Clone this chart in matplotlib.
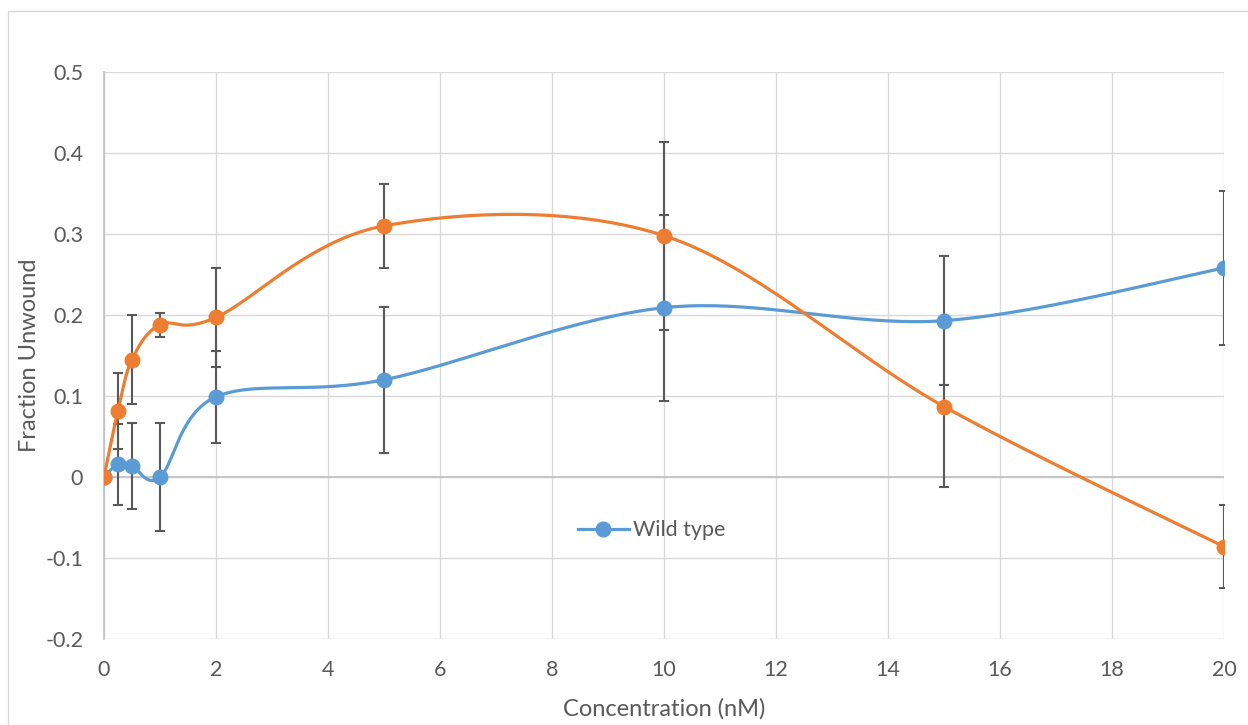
import numpy as np
import matplotlib
matplotlib.use('Agg')
import matplotlib.pyplot as plt
from matplotlib.lines import Line2D
from matplotlib.patches import Rectangle

plt.rcParams['font.family'] = ['Lato', 'DejaVu Sans']

# data
conc = [0, 0.25, 0.5, 1, 2, 5, 10, 15, 20]
wild = [0, 0.016, 0.014, 0.0, 0.099, 0.12, 0.209, 0.193, 0.258]
wild_err = [0, 0.05, 0.053, 0.067, 0.057, 0.09, 0.115, 0.08, 0.095]
mutant = [0, 0.082, 0.145, 0.188, 0.197, 0.31, 0.298, 0.087, -0.086]
mutant_err = [0, 0.047, 0.055, 0.015, 0.061, 0.052, 0.116, 0.099, 0.051]
xticks = [0, 2, 4, 6, 8, 10, 12, 14, 16, 18, 20]
yticks = [-0.2, -0.1, 0, 0.1, 0.2, 0.3, 0.4, 0.5]
ylabels = ['-0.2', '-0.1', '0', '0.1', '0.2', '0.3', '0.4', '0.5']

blue = '#5B9BD5'
orange = '#ED7D31'
textc = '#595959'


# smooth curve through the points, like Excel's smoothed line
def smooth(xs, ys, n=40):
    xs = np.asarray(xs, float)
    ys = np.asarray(ys, float)
    px = np.concatenate([[xs[0]], xs, [xs[-1]]])
    py = np.concatenate([[ys[0]], ys, [ys[-1]]])
    outx = []
    outy = []
    t = np.linspace(0, 1, n)
    for i in range(1, len(px) - 2):
        p0 = np.array([px[i], py[i]])
        p3 = np.array([px[i+1], py[i+1]])
        c1 = p0 + (np.array([px[i+1], py[i+1]]) - np.array([px[i-1], py[i-1]])) / 6.0
        c2 = p3 - (np.array([px[i+2], py[i+2]]) - np.array([px[i], py[i]])) / 6.0
        b = ((1-t)**3)[:, None]*p0 + (3*(1-t)**2*t)[:, None]*c1 + (3*(1-t)*t**2)[:, None]*c2 + (t**3)[:, None]*p3
        outx.extend(b[:, 0])
        outy.extend(b[:, 1])
    return outx, outy


fig = plt.figure(figsize=(12.48, 7.25), dpi=100)
fig.patches.append(Rectangle((8/1248, -0.1), 1.2, 1 - 11/725 + 0.1, transform=fig.transFigure,
                             fill=False, edgecolor='#D9D9D9', linewidth=1))
ax = fig.add_axes([104/1248, 86/725, 1120/1248, 567/725])

ax.errorbar(conc, wild, yerr=wild_err, fmt='none', ecolor=textc, elinewidth=1.5, capsize=3.6, capthick=1.5, zorder=3)
ax.errorbar(conc, mutant, yerr=mutant_err, fmt='none', ecolor=textc, elinewidth=1.5, capsize=3.6, capthick=1.5, zorder=3)

sx, sy = smooth(conc, wild)
ax.plot(sx, sy, color=blue, linewidth=2.3, zorder=4)
ax.plot(conc, wild, 'o', color=blue, markersize=10.5, zorder=5)
sx, sy = smooth(conc, mutant)
ax.plot(sx, sy, color=orange, linewidth=2.3, zorder=4)
ax.plot(conc, mutant, 'o', color=orange, markersize=10.5, zorder=5)

ax.set_xlim(0, 20)
ax.set_ylim(-0.2, 0.5)
ax.set_xticks(xticks)
ax.set_yticks(yticks)
ax.set_yticklabels(ylabels)
ax.grid(True, color='#D9D9D9', linewidth=1)
ax.set_axisbelow(True)
ax.axhline(0, color='#BFBFBF', linewidth=1.2, zorder=2)
for s in ['top', 'right', 'bottom']:
    ax.spines[s].set_visible(False)
ax.spines['left'].set_color('#BFBFBF')
ax.spines['left'].set_linewidth(1.2)
ax.tick_params(length=0, labelsize=15.5, colors=textc)
ax.tick_params(axis='y', pad=15)
ax.tick_params(axis='x', pad=15)

ax.set_xlabel('Concentration (nM)', fontsize=17, color=textc, labelpad=13)
ax.set_ylabel('Fraction Unwound', fontsize=17, color=textc, labelpad=4)

handle = Line2D([], [], color=blue, linewidth=2.3, marker='o', markersize=10.5)
leg = ax.legend([handle], ['Wild type'], loc='center', bbox_to_anchor=(0.489, 0.192),
                frameon=False, fontsize=15.5, handlelength=2.4, handletextpad=0.2)
for t in leg.get_texts():
    t.set_color(textc)

fig.savefig('out.png', dpi=100)
